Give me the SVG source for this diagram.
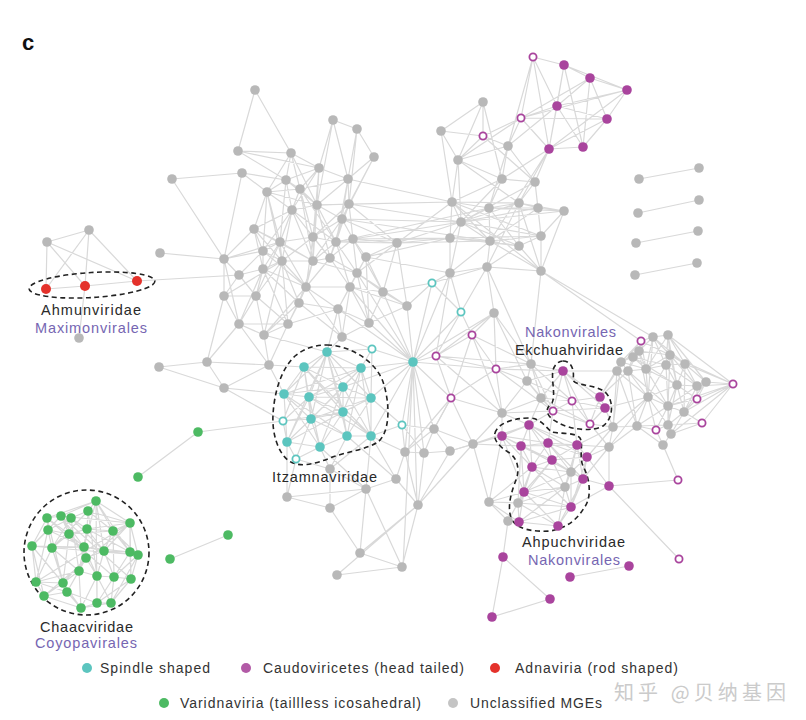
<svg xmlns="http://www.w3.org/2000/svg" width="806" height="720" viewBox="0 0 806 720">
<style>
.e{fill:none;stroke:#d9d9d9;stroke-width:1.2;stroke-linecap:round}
.g{fill:#b8b8b8}
.c{fill:#5cc5bf}
.m{fill:#a9449d}
.rd{fill:#e4322b}
.v{fill:#4dba63}
.hc{fill:#fff;stroke:#5cc5bf;stroke-width:1.8}
.hm{fill:#fff;stroke:#a9449d;stroke-width:1.8}
.o{fill:none;stroke:#222;stroke-width:1.6;stroke-dasharray:5 3.5}
.t{font-family:"Liberation Sans",Arial,sans-serif;font-size:14.5px;fill:#2a2a2a}
.p{fill:#7666b2}
.lg{font-family:"Liberation Sans",Arial,sans-serif;font-size:14px;fill:#333}
</style>
<rect width="806" height="720" fill="#fff"/>
<text x="22" y="50" style="font-family:'Liberation Sans',Arial,sans-serif;font-size:22px;font-weight:bold;fill:#111">c</text>
<g id="connectors">
<path class="e" d="M255 90 238 151M255 90 291 153M238 151 291 153M238 151 319 168M238 151 286 180M291 153 319 168M291 153 267 192M291 153 286 180M291 153 300 189M291 153 317 205M333 120 357 129M333 120 319 168M333 120 348 179M333 120 317 205M357 129 374 157M357 129 348 179M357 129 349 204M374 157 348 179M374 157 349 204M374 157 342 219M172 179 242 173M172 179 224 259M242 173 224 259M242 173 286 180M242 173 267 192M160 253 224 259M224 259 239 275M224 259 224 296M224 259 239 324M224 259 254 229M224 259 263 251M224 259 280 242M397 243 349 204M397 243 342 219M397 243 353 239M397 243 366 257M397 243 336 242M397 243 357 273M397 243 407 306M397 243 383 292M397 243 461 222M397 243 450 238M397 243 490 241M397 243 452 202M348 179 452 202M349 204 452 202M349 204 461 222M342 219 461 222M353 239 450 238M336 242 489 208M317 205 452 202M342 219 490 241M366 257 450 238M366 257 450 273M353 239 461 222M336 242 450 238"/>
<path class="e" d="M319 168 300 189M319 168 317 205M319 168 348 179M319 168 292 210M319 168 313 237M319 168 286 180M286 180 267 192M286 180 300 189M286 180 292 210M286 180 317 205M286 180 280 242M348 179 349 204M348 179 317 205M348 179 342 219M348 179 300 189M348 179 336 242M267 192 292 210M267 192 254 229M267 192 280 242M267 192 263 251M267 192 317 205M267 192 300 189M267 192 282 261M300 189 317 205M300 189 292 210M300 189 313 237M300 189 336 242M300 189 313 261M300 189 280 242M317 205 349 204M317 205 292 210M317 205 342 219M317 205 313 237M317 205 336 242M317 205 313 261M317 205 330 258M349 204 342 219M349 204 353 239M349 204 336 242M349 204 313 237M349 204 330 258M292 210 313 237M292 210 280 242M292 210 282 261M292 210 336 242M292 210 313 261M292 210 263 251M292 210 330 258M342 219 336 242M342 219 353 239M342 219 330 258M342 219 313 237M342 219 313 261M254 229 280 242M254 229 263 251M254 229 263 269M254 229 292 210M254 229 282 261M254 229 313 261M313 237 280 242M313 237 336 242M313 237 313 261M313 237 330 258M313 237 282 261M313 237 306 287M280 242 263 251M280 242 282 261M280 242 313 261M280 242 263 269M280 242 306 287M336 242 353 239M336 242 330 258M336 242 313 261M336 242 350 287M336 242 357 273M353 239 366 257M353 239 330 258M353 239 357 273M263 251 282 261M263 251 263 269M263 251 239 275M263 251 306 287M282 261 313 261M282 261 263 269M282 261 306 287M313 261 330 258M313 261 306 287M313 261 299 303M313 261 357 273M330 258 357 273M330 258 350 287M330 258 306 287M366 257 357 273M366 257 350 287M263 269 306 287M263 269 239 275M306 287 299 303M306 287 350 287M350 287 338 309M357 273 338 309M299 303 338 309M306 287 338 309"/>
<path class="e" d="M224 296 239 275M224 296 256 296M224 296 239 324M224 296 282 261M256 296 239 275M256 296 263 269M256 296 282 261M256 296 239 324M256 296 288 324M256 296 264 335M256 296 280 242M299 303 288 324M299 303 264 335M299 303 282 261M299 303 263 269M383 292 366 257M383 292 357 273M383 292 350 287M383 292 369 323M383 292 407 306M383 292 353 239M239 324 264 335M239 324 288 324M239 324 207 362M239 324 269 365M239 324 263 269M288 324 264 335M288 324 306 287M288 324 338 309M288 324 263 269M288 324 269 365M288 324 282 261M369 323 342 337M369 323 338 309M369 323 350 287M369 323 357 273M369 323 413 362M369 323 366 257M264 335 269 365M264 335 306 287M264 335 282 261M342 337 338 309M342 337 350 287M342 337 306 287M342 337 372 349M342 337 327 352M342 337 299 303M407 306 369 323M407 306 350 287M407 306 413 362M407 306 432 283M407 306 357 273M159 367 207 362M159 367 224 388M207 362 224 388M207 362 269 365M207 362 224 296M269 365 224 388M269 365 304 367M269 365 284 394M224 388 284 394M224 388 283 421M264 335 327 352M338 309 327 352M338 309 413 362M357 273 413 362M350 287 413 362"/>
<path class="e" d="M47 242 89 230M47 242 46 289M47 242 137 281M47 242 85 286M89 230 46 289M89 230 85 286M89 230 137 281M46 289 85 286M85 286 137 281M137 281 239 275M85 286 79 338"/>
<path class="e" d="M327 352 304 367M327 352 361 368M327 352 284 394M327 352 309 397M327 352 343 387M327 352 371 398M327 352 343 412M327 352 311 419M327 352 287 442M327 352 347 436M304 367 361 368M304 367 284 394M304 367 309 397M304 367 343 387M304 367 343 412M304 367 311 419M304 367 371 436M304 367 283 421M361 368 343 387M361 368 371 398M361 368 309 397M361 368 343 412M361 368 347 436M361 368 371 436M361 368 311 419M361 368 284 394M284 394 309 397M284 394 311 419M284 394 287 442M284 394 343 387M284 394 320 447M284 394 347 436M309 397 343 387M309 397 343 412M309 397 311 419M309 397 371 398M309 397 320 447M309 397 287 442M309 397 371 436M343 387 371 398M343 387 343 412M343 387 311 419M343 387 320 447M343 387 371 436M371 398 343 412M371 398 347 436M371 398 371 436M371 398 311 419M343 412 311 419M343 412 347 436M343 412 371 436M343 412 320 447M343 412 287 442M311 419 287 442M311 419 320 447M311 419 347 436M287 442 320 447M320 447 347 436M347 436 371 436M283 421 309 397M283 421 287 442M283 421 311 419M283 421 343 412M296 459 287 442M296 459 320 447M296 459 311 419M372 349 361 368M372 349 327 352M372 349 413 362M372 349 371 398M198 432 283 421M198 432 138 477M228 535 170 559"/>
<path class="e" d="M413 362 361 368M413 362 371 398M413 362 371 436M413 362 402 425M413 362 432 283M413 362 461 312M413 362 494 313M413 362 436 356M413 362 451 398M413 362 496 369M413 362 434 429M413 362 405 452M413 362 424 453M413 362 417 505M413 362 403 567M413 362 383 292M413 362 343 387M413 362 450 273M432 283 450 273M432 283 461 312M432 283 487 267M432 283 383 292M461 312 472 335M461 312 436 356M461 312 450 273M461 312 487 267M494 313 472 335M494 313 496 369M494 313 487 267M494 313 531 364M494 313 436 356M494 313 527 381M472 335 436 356M472 335 496 369M472 335 531 364M472 335 502 413M472 335 451 398M436 356 496 369M436 356 451 398M436 356 502 413M436 356 531 364M496 369 531 364M496 369 527 381M496 369 502 413M496 369 553 411M496 369 451 398M496 369 563 371M451 398 502 413M451 398 434 429M451 398 473 444M451 398 405 452M502 413 527 381M502 413 541 398M502 413 553 411M502 413 502 436M502 413 529 425M502 413 473 444M541 271 641 341M541 271 653 337M541 271 531 364M487 267 531 364M450 273 436 356M402 425 434 429M402 425 405 452M402 425 371 436M402 425 371 398M402 425 424 453"/>
<path class="e" d="M531 364 527 381M531 364 563 371M531 364 572 401M531 364 553 411M531 364 541 398M527 381 541 398M527 381 553 411M527 381 563 371M527 381 572 401M541 398 553 411M541 398 563 371M541 398 572 401M541 398 590 424M541 398 529 425M563 371 572 401M563 371 600 397M563 371 605 408M563 371 553 411M563 371 590 424M572 401 600 397M572 401 605 408M572 401 553 411M572 401 590 424M553 411 590 424M553 411 605 408M553 411 529 425M590 424 600 397M590 424 605 408M600 397 605 408M563 371 617 371M600 397 617 371M600 397 621 362M605 408 613 427M605 408 648 397M590 424 613 427M590 424 609 447M553 411 548 443M572 401 577 445M600 397 628 371"/>
<path class="e" d="M641 341 653 337M641 341 639 351M641 341 621 362M641 341 670 355M641 341 646 369M641 341 617 371M653 337 668 335M653 337 639 351M653 337 670 355M653 337 633 357M653 337 685 364M653 337 646 369M653 337 666 365M653 337 648 397M668 335 670 355M668 335 685 364M668 335 666 365M668 335 706 382M668 335 646 369M668 335 677 385M639 351 633 357M639 351 621 362M639 351 646 369M639 351 628 371M639 351 670 355M639 351 648 397M670 355 685 364M670 355 666 365M670 355 677 385M670 355 697 386M670 355 646 369M670 355 668 406M621 362 617 371M621 362 628 371M621 362 633 357M621 362 646 369M621 362 648 397M621 362 613 427M633 357 628 371M633 357 646 369M633 357 666 365M633 357 677 385M685 364 706 382M685 364 697 386M685 364 677 385M685 364 666 365M685 364 684 412M617 371 628 371M617 371 648 397M617 371 613 427M617 371 637 426M628 371 646 369M628 371 648 397M628 371 637 426M628 371 668 406M646 369 666 365M646 369 648 397M646 369 677 385M646 369 668 406M666 365 677 385M666 365 697 386M666 365 668 406M666 365 648 397M706 382 697 386M706 382 697 399M706 382 684 412M697 386 677 385M697 386 697 399M697 386 684 412M697 386 668 406M677 385 668 406M677 385 684 412M677 385 648 397M677 385 668 425M648 397 668 406M648 397 637 426M648 397 613 427M648 397 656 430M648 397 668 425M668 406 684 412M668 406 668 425M668 406 656 430M668 406 671 434M668 406 637 426M684 412 702 423M684 412 668 425M684 412 671 434M684 412 697 399M613 427 637 426M613 427 609 447M637 426 656 430M637 426 668 425M637 426 663 445M668 425 671 434M668 425 656 430M671 434 663 445M656 430 663 445M702 423 668 425M702 423 671 434M697 399 668 406M697 399 677 385M733 384 706 382M733 384 697 386M733 384 685 364M733 384 668 335M733 384 697 399M733 384 702 423M733 384 684 412M733 384 670 355M733 384 668 406M733 384 671 434M609 447 637 426M609 447 648 397M663 445 678 480M609 447 609 486"/>
<path class="e" d="M529 425 502 436M529 425 521 446M529 425 548 443M529 425 577 445M529 425 552 460M529 425 532 467M529 425 587 457M502 436 521 446M502 436 548 443M502 436 532 467M502 436 524 492M502 436 489 502M502 436 552 460M521 446 548 443M521 446 552 460M521 446 532 467M521 446 577 445M521 446 524 492M521 446 571 472M521 446 518 503M548 443 577 445M548 443 587 457M548 443 552 460M548 443 532 467M548 443 583 479M548 443 571 472M577 445 587 457M577 445 552 460M577 445 571 472M577 445 583 479M577 445 565 487M587 457 552 460M587 457 583 479M587 457 571 472M587 457 571 507M552 460 532 467M552 460 571 472M552 460 524 492M552 460 565 487M552 460 583 479M552 460 518 503M532 467 524 492M532 467 571 472M532 467 565 487M532 467 489 502M532 467 518 503M532 467 571 507M571 472 583 479M571 472 565 487M571 472 524 492M571 472 571 507M583 479 565 487M583 479 571 507M583 479 558 526M565 487 524 492M565 487 571 507M565 487 518 503M565 487 558 526M565 487 519 522M524 492 489 502M524 492 518 503M524 492 508 521M524 492 519 522M524 492 571 507M524 492 558 526M489 502 518 503M489 502 508 521M489 502 519 522M518 503 508 521M518 503 519 522M518 503 571 507M518 503 558 526M508 521 519 522M508 521 558 526M571 507 558 526M571 507 519 522M519 522 558 526M609 447 577 445M609 447 587 457M609 447 583 479M613 427 587 457M613 427 577 445M609 486 583 479M609 486 571 507M609 486 587 457M609 486 678 480M609 486 679 559M473 444 502 436M473 444 489 502M473 444 529 425M450 451 502 436M473 444 521 446M508 521 503 557M503 557 550 599M503 557 492 617M492 617 550 599M570 577 629 566"/>
<path class="e" d="M405 452 424 453M405 452 396 479M405 452 434 429M405 452 371 436M424 453 434 429M424 453 450 451M424 453 418 505M450 451 434 429M450 451 473 444M450 451 418 505M473 444 418 505M434 429 451 398M434 429 473 444M396 479 366 489M396 479 418 505M396 479 371 436M396 479 347 436M366 489 330 508M366 489 330 469M366 489 360 553M366 489 402 567M366 489 287 497M366 489 320 447M366 489 371 436M330 508 287 497M330 508 330 469M330 508 360 553M418 505 360 553M418 505 337 575M418 505 402 567M360 553 402 567M337 575 402 567M330 469 320 447M330 469 296 459M330 469 347 436M287 497 296 459M287 497 287 442M418 505 405 452M330 469 371 436"/>
<path class="e" d="M533 57 564 65M564 65 590 78M590 78 627 90M564 65 627 90M533 57 549 149M533 57 508 146M533 57 521 118M533 57 557 106M564 65 557 106M564 65 549 149M564 65 583 147M590 78 557 106M590 78 583 147M590 78 607 119M590 78 521 118M627 90 607 119M627 90 557 106M627 90 549 149M627 90 521 118M557 106 607 119M557 106 549 149M557 106 521 118M557 106 583 147M557 106 508 146M607 119 583 147M607 119 549 149M607 119 521 118M521 118 483 136M521 118 549 149M521 118 508 146M521 118 458 160M549 149 583 147M549 149 535 182M549 149 519 203M549 149 502 179M549 149 490 241M483 102 441 131M483 102 483 136M483 102 458 160M483 102 502 179M441 131 483 136M441 131 458 160M441 131 452 202M483 136 508 146M483 136 458 160M483 136 535 182M508 146 458 160M508 146 535 182M508 146 489 208M508 146 502 179M458 160 502 179M458 160 452 202M458 160 461 222M458 160 519 203M502 179 535 182M502 179 489 208M502 179 461 222M502 179 452 202M535 182 519 203M535 182 538 208M535 182 541 236M535 182 461 222M452 202 489 208M452 202 461 222M452 202 519 203M452 202 450 238M452 202 490 241M489 208 519 203M489 208 461 222M489 208 538 208M489 208 490 241M489 208 519 246M489 208 564 211M519 203 538 208M519 203 564 211M519 203 461 222M519 203 519 246M538 208 564 211M538 208 461 222M538 208 541 236M538 208 490 241M564 211 461 222M564 211 541 236M564 211 541 271M461 222 450 238M461 222 490 241M461 222 519 246M461 222 541 236M450 238 490 241M450 238 519 246M450 238 450 273M450 238 541 236M490 241 519 246M490 241 541 236M490 241 487 267M490 241 450 273M519 246 541 236M519 246 541 271M519 246 487 267M541 236 541 271M541 236 452 202M450 273 487 267M450 273 461 222M487 267 541 271M487 267 519 203M541 271 490 241M541 271 519 203M541 271 452 202M639 179 699 168M638 213 699 200M636 243 698 231M635 275 697 263"/>
<path class="e" d="M96 501 88 511M96 501 130 523M96 501 61 516M96 501 113 531M96 501 84 547M96 501 130 552M96 501 47 518M96 501 104 551M88 511 71 518M88 511 87 529M88 511 130 523M88 511 52 548M88 511 113 531M88 511 97 576M61 516 47 518M61 516 69 534M61 516 32 546M61 516 84 547M61 516 130 523M61 516 86 558M71 518 48 530M71 518 87 529M71 518 104 551M71 518 52 548M71 518 79 571M47 518 48 530M47 518 32 546M47 518 69 534M47 518 63 583M130 523 113 531M130 523 130 552M130 523 138 555M130 523 104 551M130 523 87 529M130 523 131 579M48 530 32 546M48 530 52 548M48 530 69 534M48 530 84 547M48 530 36 582M69 534 87 529M69 534 52 548M69 534 84 547M69 534 86 558M69 534 113 531M69 534 63 583M87 529 113 531M87 529 84 547M87 529 104 551M87 529 130 552M87 529 79 571M113 531 104 551M113 531 130 552M113 531 138 555M113 531 114 577M32 546 52 548M32 546 36 582M32 546 44 596M32 546 63 583M32 546 84 547M52 548 84 547M52 548 63 583M52 548 36 582M52 548 79 571M52 548 67 592M84 547 104 551M84 547 86 558M84 547 79 571M84 547 97 576M84 547 130 552M104 551 130 552M104 551 86 558M104 551 97 576M104 551 114 577M104 551 138 555M130 552 138 555M130 552 131 579M130 552 114 577M138 555 131 579M138 555 114 577M138 555 111 603M86 558 79 571M86 558 97 576M86 558 63 583M86 558 67 592M79 571 97 576M79 571 63 583M79 571 67 592M79 571 81 608M79 571 36 582M97 576 114 577M97 576 97 603M97 576 111 603M97 576 81 608M114 577 131 579M114 577 111 603M114 577 97 603M131 579 111 603M131 579 97 603M36 582 63 583M36 582 44 596M36 582 67 592M63 583 67 592M63 583 44 596M63 583 81 608M67 592 44 596M67 592 81 608M67 592 97 603M44 596 81 608M97 603 111 603M97 603 81 608M111 603 81 608M61 516 131 579M47 518 114 577M96 501 97 603M130 523 44 596M32 546 138 555M36 582 130 523"/>
</g>
<g id="outlines">
<ellipse class="o" cx="92" cy="285" rx="63" ry="12.5" transform="rotate(-3.5 92 285)"/>
<path class="o" d="M327 345 C350 345 378 362 384 385 C390 405 390 432 378 442 C365 450 345 452 330 458 C315 464 300 468 289 461 C277 452 272 432 273 415 C274 395 280 370 295 356 C305 348 315 345 327 345 Z"/>
<circle class="o" cx="86.5" cy="552.5" r="62.5"/>
<path class="o" d="M563 361 C570 361 575 368 573 380 C575 386 595 384 605 392 C614 400 614 418 603 426 C592 432 570 430 557 422 C545 416 545 408 552 403 C556 395 551 380 553 370 C555 364 559 361 563 361 Z"/>
<path class="o" d="M495 433 C497 425 510 418 530 418 C542 419 546 428 552 432 C560 434 575 432 580 438 C584 445 578 458 584 468 C590 480 592 498 584 508 C578 518 568 528 550 531 C535 532 518 530 512 520 C506 508 512 490 516 480 C520 470 518 458 508 452 C500 447 493 440 495 433 Z"/>
</g>
<g id="nodes">
<g id="a1"><circle class="g" cx="255" cy="90" r="4.8"/></g>
<g id="a2"><circle class="g" cx="333" cy="120" r="4.8"/></g>
<g id="a3"><circle class="g" cx="357" cy="129" r="4.8"/></g>
<g id="a4"><circle class="g" cx="374" cy="157" r="4.8"/></g>
<g id="a5"><circle class="g" cx="238" cy="151" r="4.8"/></g>
<g id="a6"><circle class="g" cx="291" cy="153" r="4.8"/></g>
<g id="a7"><circle class="g" cx="319" cy="168" r="4.8"/></g>
<g id="a8"><circle class="g" cx="172" cy="179" r="4.8"/></g>
<g id="a9"><circle class="g" cx="242" cy="173" r="4.8"/></g>
<g id="a10"><circle class="g" cx="286" cy="180" r="4.8"/></g>
<g id="a11"><circle class="g" cx="348" cy="179" r="4.8"/></g>
<g id="a12"><circle class="g" cx="267" cy="192" r="4.8"/></g>
<g id="a13"><circle class="g" cx="300" cy="189" r="4.8"/></g>
<g id="a14"><circle class="g" cx="317" cy="205" r="4.8"/></g>
<g id="a15"><circle class="g" cx="349" cy="204" r="4.8"/></g>
<g id="a16"><circle class="g" cx="292" cy="210" r="4.8"/></g>
<g id="a17"><circle class="g" cx="342" cy="219" r="4.8"/></g>
<g id="a18"><circle class="g" cx="254" cy="229" r="4.8"/></g>
<g id="a19"><circle class="g" cx="313" cy="237" r="4.8"/></g>
<g id="a20"><circle class="g" cx="280" cy="242" r="4.8"/></g>
<g id="a21"><circle class="g" cx="336" cy="242" r="4.8"/></g>
<g id="a22"><circle class="g" cx="353" cy="239" r="4.8"/></g>
<g id="a23"><circle class="g" cx="397" cy="243" r="4.8"/></g>
<g id="a24"><circle class="g" cx="263" cy="251" r="4.8"/></g>
<g id="a25"><circle class="g" cx="282" cy="261" r="4.8"/></g>
<g id="a26"><circle class="g" cx="313" cy="261" r="4.8"/></g>
<g id="a27"><circle class="g" cx="330" cy="258" r="4.8"/></g>
<g id="a28"><circle class="g" cx="366" cy="257" r="4.8"/></g>
<g id="a29"><circle class="g" cx="224" cy="259" r="4.8"/></g>
<g id="a30"><circle class="g" cx="160" cy="253" r="4.8"/></g>
<g id="a31"><circle class="g" cx="263" cy="269" r="4.8"/></g>
<g id="a32"><circle class="g" cx="239" cy="275" r="4.8"/></g>
<g id="a33"><circle class="g" cx="306" cy="287" r="4.8"/></g>
<g id="a34"><circle class="g" cx="350" cy="287" r="4.8"/></g>
<g id="a35"><circle class="g" cx="357" cy="273" r="4.8"/></g>
<g id="a36"><circle class="g" cx="224" cy="296" r="4.8"/></g>
<g id="a37"><circle class="g" cx="256" cy="296" r="4.8"/></g>
<g id="a38"><circle class="g" cx="299" cy="303" r="4.8"/></g>
<g id="a39"><circle class="g" cx="383" cy="292" r="4.8"/></g>
<g id="a40"><circle class="g" cx="338" cy="309" r="4.8"/></g>
<g id="a41"><circle class="g" cx="239" cy="324" r="4.8"/></g>
<g id="a42"><circle class="g" cx="288" cy="324" r="4.8"/></g>
<g id="a43"><circle class="g" cx="369" cy="323" r="4.8"/></g>
<g id="a44"><circle class="g" cx="264" cy="335" r="4.8"/></g>
<g id="a45"><circle class="g" cx="342" cy="337" r="4.8"/></g>
<g id="a46"><circle class="g" cx="407" cy="306" r="4.8"/></g>
<g id="a47"><circle class="g" cx="159" cy="367" r="4.8"/></g>
<g id="a48"><circle class="g" cx="207" cy="362" r="4.8"/></g>
<g id="a49"><circle class="g" cx="269" cy="365" r="4.8"/></g>
<g id="a50"><circle class="g" cx="224" cy="388" r="4.8"/></g>
<g id="am1"><circle class="g" cx="47" cy="242" r="4.8"/></g>
<g id="am2"><circle class="g" cx="89" cy="230" r="4.8"/></g>
<g id="am3"><circle class="g" cx="79" cy="338" r="4.8"/></g>
<g id="ad1"><circle class="rd" cx="46" cy="289" r="5"/></g>
<g id="ad2"><circle class="rd" cx="85" cy="286" r="5"/></g>
<g id="ad3"><circle class="rd" cx="137" cy="281" r="5"/></g>
<g id="b1"><circle class="hm" cx="533" cy="57" r="3.6"/></g>
<g id="b2"><circle class="m" cx="564" cy="65" r="4.8"/></g>
<g id="b3"><circle class="m" cx="590" cy="78" r="4.8"/></g>
<g id="b4"><circle class="m" cx="627" cy="90" r="4.8"/></g>
<g id="b5"><circle class="m" cx="557" cy="106" r="4.8"/></g>
<g id="b6"><circle class="m" cx="607" cy="119" r="4.8"/></g>
<g id="b7"><circle class="hm" cx="521" cy="118" r="3.6"/></g>
<g id="b8"><circle class="hm" cx="483" cy="136" r="3.6"/></g>
<g id="b9"><circle class="m" cx="549" cy="149" r="4.8"/></g>
<g id="b10"><circle class="m" cx="583" cy="147" r="4.8"/></g>
<g id="b11"><circle class="g" cx="483" cy="102" r="4.8"/></g>
<g id="b12"><circle class="g" cx="441" cy="131" r="4.8"/></g>
<g id="b13"><circle class="g" cx="508" cy="146" r="4.8"/></g>
<g id="b14"><circle class="g" cx="458" cy="160" r="4.8"/></g>
<g id="b15"><circle class="g" cx="502" cy="179" r="4.8"/></g>
<g id="b16"><circle class="g" cx="535" cy="182" r="4.8"/></g>
<g id="b17"><circle class="g" cx="452" cy="202" r="4.8"/></g>
<g id="b18"><circle class="g" cx="489" cy="208" r="4.8"/></g>
<g id="b19"><circle class="g" cx="519" cy="203" r="4.8"/></g>
<g id="b20"><circle class="g" cx="538" cy="208" r="4.8"/></g>
<g id="b21"><circle class="g" cx="564" cy="211" r="4.8"/></g>
<g id="b22"><circle class="g" cx="461" cy="222" r="4.8"/></g>
<g id="b23"><circle class="g" cx="450" cy="238" r="4.8"/></g>
<g id="b24"><circle class="g" cx="490" cy="241" r="4.8"/></g>
<g id="b25"><circle class="g" cx="519" cy="246" r="4.8"/></g>
<g id="b26"><circle class="g" cx="541" cy="236" r="4.8"/></g>
<g id="b27"><circle class="g" cx="450" cy="273" r="4.8"/></g>
<g id="b28"><circle class="g" cx="487" cy="267" r="4.8"/></g>
<g id="b29"><circle class="g" cx="541" cy="271" r="4.8"/></g>
<g id="p1a"><circle class="g" cx="639" cy="179" r="4.8"/></g>
<g id="p1b"><circle class="g" cx="699" cy="168" r="4.8"/></g>
<g id="p2a"><circle class="g" cx="638" cy="213" r="4.8"/></g>
<g id="p2b"><circle class="g" cx="699" cy="200" r="4.8"/></g>
<g id="p3a"><circle class="g" cx="636" cy="243" r="4.8"/></g>
<g id="p3b"><circle class="g" cx="698" cy="231" r="4.8"/></g>
<g id="p4a"><circle class="g" cx="635" cy="275" r="4.8"/></g>
<g id="p4b"><circle class="g" cx="697" cy="263" r="4.8"/></g>
<g id="hub"><circle class="c" cx="413" cy="362" r="4.8"/></g>
<g id="ch1"><circle class="hc" cx="432" cy="283" r="3.6"/></g>
<g id="ch2"><circle class="hc" cx="461" cy="312" r="3.6"/></g>
<g id="ch3"><circle class="hc" cx="372" cy="349" r="3.6"/></g>
<g id="ch4"><circle class="hc" cx="402" cy="425" r="3.6"/></g>
<g id="ch5"><circle class="hc" cx="283" cy="421" r="3.6"/></g>
<g id="ch6"><circle class="hc" cx="296" cy="459" r="3.6"/></g>
<g id="i1"><circle class="c" cx="327" cy="352" r="4.8"/></g>
<g id="i2"><circle class="c" cx="304" cy="367" r="4.8"/></g>
<g id="i3"><circle class="c" cx="361" cy="368" r="4.8"/></g>
<g id="i4"><circle class="c" cx="284" cy="394" r="4.8"/></g>
<g id="i5"><circle class="c" cx="309" cy="397" r="4.8"/></g>
<g id="i6"><circle class="c" cx="343" cy="387" r="4.8"/></g>
<g id="i7"><circle class="c" cx="371" cy="398" r="4.8"/></g>
<g id="i8"><circle class="c" cx="343" cy="412" r="4.8"/></g>
<g id="i9"><circle class="c" cx="311" cy="419" r="4.8"/></g>
<g id="i10"><circle class="c" cx="287" cy="442" r="4.8"/></g>
<g id="i11"><circle class="c" cx="320" cy="447" r="4.8"/></g>
<g id="i12"><circle class="c" cx="347" cy="436" r="4.8"/></g>
<g id="i13"><circle class="c" cx="371" cy="436" r="4.8"/></g>
<g id="mg1"><circle class="g" cx="494" cy="313" r="4.8"/></g>
<g id="mh1"><circle class="hm" cx="472" cy="335" r="3.6"/></g>
<g id="mh2"><circle class="hm" cx="436" cy="356" r="3.6"/></g>
<g id="mh3"><circle class="hm" cx="496" cy="369" r="3.6"/></g>
<g id="mh4"><circle class="hm" cx="451" cy="398" r="3.6"/></g>
<g id="mg2"><circle class="g" cx="531" cy="364" r="4.8"/></g>
<g id="mg3"><circle class="g" cx="527" cy="381" r="4.8"/></g>
<g id="mg4"><circle class="g" cx="541" cy="398" r="4.8"/></g>
<g id="mg5"><circle class="g" cx="502" cy="413" r="4.8"/></g>
<g id="e1"><circle class="m" cx="563" cy="371" r="4.8"/></g>
<g id="e2"><circle class="m" cx="600" cy="397" r="4.8"/></g>
<g id="e3"><circle class="m" cx="605" cy="408" r="4.8"/></g>
<g id="eh1"><circle class="hm" cx="572" cy="401" r="3.6"/></g>
<g id="eh2"><circle class="hm" cx="553" cy="411" r="3.6"/></g>
<g id="eh3"><circle class="hm" cx="590" cy="424" r="3.6"/></g>
<g id="r1"><circle class="g" cx="653" cy="337" r="4.8"/></g>
<g id="r2"><circle class="g" cx="668" cy="335" r="4.8"/></g>
<g id="r3"><circle class="g" cx="639" cy="351" r="4.8"/></g>
<g id="r4"><circle class="g" cx="670" cy="355" r="4.8"/></g>
<g id="r5"><circle class="g" cx="621" cy="362" r="4.8"/></g>
<g id="r6"><circle class="g" cx="633" cy="357" r="4.8"/></g>
<g id="r7"><circle class="g" cx="685" cy="364" r="4.8"/></g>
<g id="r8"><circle class="g" cx="617" cy="371" r="4.8"/></g>
<g id="r9"><circle class="g" cx="628" cy="371" r="4.8"/></g>
<g id="r10"><circle class="g" cx="646" cy="369" r="4.8"/></g>
<g id="r11"><circle class="g" cx="666" cy="365" r="4.8"/></g>
<g id="r12"><circle class="g" cx="706" cy="382" r="4.8"/></g>
<g id="r13"><circle class="g" cx="697" cy="386" r="4.8"/></g>
<g id="r14"><circle class="g" cx="677" cy="385" r="4.8"/></g>
<g id="r15"><circle class="g" cx="648" cy="397" r="4.8"/></g>
<g id="r16"><circle class="g" cx="668" cy="406" r="4.8"/></g>
<g id="r17"><circle class="g" cx="684" cy="412" r="4.8"/></g>
<g id="r18"><circle class="g" cx="613" cy="427" r="4.8"/></g>
<g id="r19"><circle class="g" cx="637" cy="426" r="4.8"/></g>
<g id="r20"><circle class="g" cx="668" cy="425" r="4.8"/></g>
<g id="r21"><circle class="g" cx="671" cy="434" r="4.8"/></g>
<g id="r22"><circle class="g" cx="663" cy="445" r="4.8"/></g>
<g id="r23"><circle class="g" cx="609" cy="447" r="4.8"/></g>
<g id="rh1"><circle class="hm" cx="641" cy="341" r="3.6"/></g>
<g id="rh2"><circle class="hm" cx="733" cy="384" r="3.6"/></g>
<g id="rh3"><circle class="hm" cx="697" cy="399" r="3.6"/></g>
<g id="rh4"><circle class="hm" cx="702" cy="423" r="3.6"/></g>
<g id="rh5"><circle class="hm" cx="656" cy="430" r="3.6"/></g>
<g id="hg1"><circle class="g" cx="571" cy="472" r="4.8"/></g>
<g id="hg2"><circle class="g" cx="565" cy="487" r="4.8"/></g>
<g id="hg3"><circle class="g" cx="489" cy="502" r="4.8"/></g>
<g id="hg4"><circle class="g" cx="518" cy="503" r="4.8"/></g>
<g id="hg5"><circle class="g" cx="508" cy="521" r="4.8"/></g>
<g id="h1"><circle class="m" cx="529" cy="425" r="4.8"/></g>
<g id="h2"><circle class="m" cx="502" cy="436" r="4.8"/></g>
<g id="h3"><circle class="m" cx="521" cy="446" r="4.8"/></g>
<g id="h4"><circle class="m" cx="548" cy="443" r="4.8"/></g>
<g id="h5"><circle class="m" cx="577" cy="445" r="4.8"/></g>
<g id="h6"><circle class="m" cx="587" cy="457" r="4.8"/></g>
<g id="h7"><circle class="m" cx="552" cy="460" r="4.8"/></g>
<g id="h8"><circle class="m" cx="532" cy="467" r="4.8"/></g>
<g id="h9"><circle class="m" cx="583" cy="479" r="4.8"/></g>
<g id="h10"><circle class="m" cx="524" cy="492" r="4.8"/></g>
<g id="h11"><circle class="m" cx="571" cy="507" r="4.8"/></g>
<g id="h12"><circle class="m" cx="519" cy="522" r="4.8"/></g>
<g id="h13"><circle class="m" cx="558" cy="526" r="4.8"/></g>
<g id="L1"><circle class="g" cx="405" cy="452" r="4.8"/></g>
<g id="L2"><circle class="g" cx="424" cy="453" r="4.8"/></g>
<g id="L3"><circle class="g" cx="450" cy="451" r="4.8"/></g>
<g id="L4"><circle class="g" cx="434" cy="429" r="4.8"/></g>
<g id="L5"><circle class="g" cx="473" cy="444" r="4.8"/></g>
<g id="L6"><circle class="g" cx="396" cy="479" r="4.8"/></g>
<g id="L7"><circle class="g" cx="366" cy="489" r="4.8"/></g>
<g id="L8"><circle class="g" cx="330" cy="508" r="4.8"/></g>
<g id="L9"><circle class="g" cx="287" cy="497" r="4.8"/></g>
<g id="L10"><circle class="g" cx="418" cy="505" r="4.8"/></g>
<g id="L11"><circle class="g" cx="360" cy="553" r="4.8"/></g>
<g id="L12"><circle class="g" cx="402" cy="567" r="4.8"/></g>
<g id="L13"><circle class="g" cx="337" cy="575" r="4.8"/></g>
<g id="L14"><circle class="g" cx="330" cy="469" r="4.8"/></g>
<g id="lm1"><circle class="m" cx="609" cy="486" r="4.8"/></g>
<g id="lm2"><circle class="m" cx="503" cy="557" r="4.8"/></g>
<g id="lm3"><circle class="m" cx="570" cy="577" r="4.8"/></g>
<g id="lm4"><circle class="m" cx="629" cy="566" r="4.8"/></g>
<g id="lm5"><circle class="m" cx="550" cy="599" r="4.8"/></g>
<g id="lm6"><circle class="m" cx="492" cy="617" r="4.8"/></g>
<g id="lh1"><circle class="hm" cx="678" cy="480" r="3.6"/></g>
<g id="lh2"><circle class="hm" cx="679" cy="559" r="3.6"/></g>
<g id="v1"><circle class="v" cx="198" cy="432" r="4.8"/></g>
<g id="v2"><circle class="v" cx="138" cy="477" r="4.8"/></g>
<g id="v3"><circle class="v" cx="228" cy="535" r="4.8"/></g>
<g id="v4"><circle class="v" cx="170" cy="559" r="4.8"/></g>
<g id="G1"><circle class="v" cx="96" cy="501" r="4.8"/></g>
<g id="G2"><circle class="v" cx="88" cy="511" r="4.8"/></g>
<g id="G3"><circle class="v" cx="61" cy="516" r="4.8"/></g>
<g id="G4"><circle class="v" cx="71" cy="518" r="4.8"/></g>
<g id="G5"><circle class="v" cx="47" cy="518" r="4.8"/></g>
<g id="G6"><circle class="v" cx="130" cy="523" r="4.8"/></g>
<g id="G7"><circle class="v" cx="48" cy="530" r="4.8"/></g>
<g id="G8"><circle class="v" cx="69" cy="534" r="4.8"/></g>
<g id="G9"><circle class="v" cx="87" cy="529" r="4.8"/></g>
<g id="G10"><circle class="v" cx="113" cy="531" r="4.8"/></g>
<g id="G11"><circle class="v" cx="32" cy="546" r="4.8"/></g>
<g id="G12"><circle class="v" cx="52" cy="548" r="4.8"/></g>
<g id="G13"><circle class="v" cx="84" cy="547" r="4.8"/></g>
<g id="G14"><circle class="v" cx="104" cy="551" r="4.8"/></g>
<g id="G15"><circle class="v" cx="130" cy="552" r="4.8"/></g>
<g id="G16"><circle class="v" cx="138" cy="555" r="4.8"/></g>
<g id="G17"><circle class="v" cx="86" cy="558" r="4.8"/></g>
<g id="G18"><circle class="v" cx="79" cy="571" r="4.8"/></g>
<g id="G19"><circle class="v" cx="97" cy="576" r="4.8"/></g>
<g id="G20"><circle class="v" cx="114" cy="577" r="4.8"/></g>
<g id="G21"><circle class="v" cx="131" cy="579" r="4.8"/></g>
<g id="G22"><circle class="v" cx="36" cy="582" r="4.8"/></g>
<g id="G23"><circle class="v" cx="63" cy="583" r="4.8"/></g>
<g id="G24"><circle class="v" cx="67" cy="592" r="4.8"/></g>
<g id="G25"><circle class="v" cx="44" cy="596" r="4.8"/></g>
<g id="G26"><circle class="v" cx="97" cy="603" r="4.8"/></g>
<g id="G27"><circle class="v" cx="111" cy="603" r="4.8"/></g>
<g id="G28"><circle class="v" cx="81" cy="608" r="4.8"/></g>
</g>
<g id="labels">
<text class="t" x="41" y="315" textLength="100">Ahmunviridae</text>
<text class="t p" x="35" y="333" textLength="112">Maximonvirales</text>
<text class="t" x="272" y="482" textLength="105">Itzamnaviridae</text>
<text class="t" x="40" y="632" textLength="93">Chaacviridae</text>
<text class="t p" x="35" y="648" textLength="102">Coyopavirales</text>
<text class="t p" x="525" y="337" textLength="91">Nakonvirales</text>
<text class="t" x="515" y="355" textLength="108">Ekchuahviridae</text>
<text class="t" x="522" y="547" textLength="103">Ahpuchviridae</text>
<text class="t p" x="528" y="565" textLength="92">Nakonvirales</text>
</g>
<g id="legend">
<circle class="c" cx="87" cy="668" r="5"/>
<text class="lg" x="100" y="673" textLength="110">Spindle shaped</text>
<circle class="m" cx="246" cy="668" r="5" style="fill:#b25aa6"/>
<text class="lg" x="263" y="673" textLength="201">Caudoviricetes (head tailed)</text>
<circle class="rd" cx="495" cy="668" r="5"/>
<text class="lg" x="515" y="673" textLength="163">Adnaviria (rod shaped)</text>
<circle class="v" cx="164" cy="703" r="5"/>
<text class="lg" x="180" y="708" textLength="241">Varidnaviria (taillless icosahedral)</text>
<circle class="g" cx="453" cy="703" r="5" style="fill:#c4c4c4"/>
<text class="lg" x="470" y="708" textLength="132">Unclassified MGEs</text>
</g>
<text x="614" y="700" textLength="172" style="font-family:'Noto Sans CJK SC','Liberation Sans',sans-serif;font-size:20px;fill:#c2c2c2;opacity:0.85">知乎 @贝纳基因</text>
</svg>
